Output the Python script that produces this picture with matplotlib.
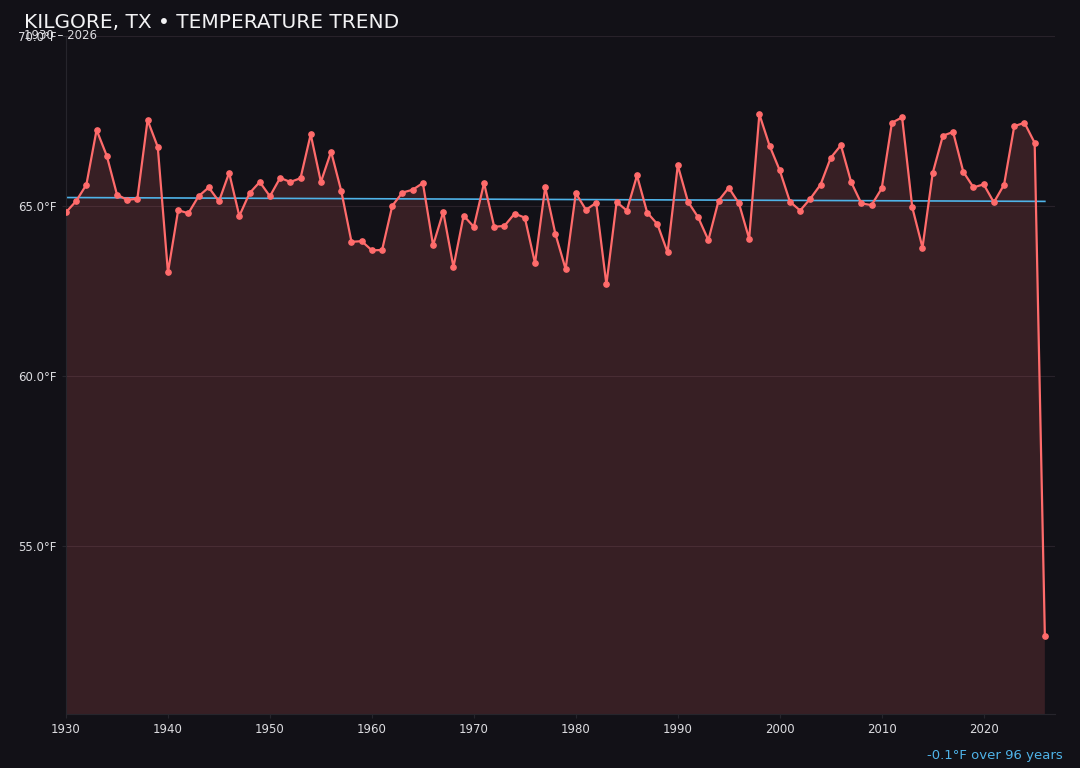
import numpy as np
import matplotlib
matplotlib.use("Agg")
import matplotlib.pyplot as plt

# annual mean temperature, Kilgore TX (°F)
years = list(range(1930, 2027))
temps = [
    64.82, 65.15, 65.63, 67.24, 66.48, 65.34, 65.18, 65.22, 67.53, 66.74,  # 1930s
    63.05, 64.88, 64.79, 65.29, 65.55, 65.14, 65.98, 64.71, 65.38, 65.71,  # 1940s
    65.29, 65.83, 65.71, 65.82, 67.11, 65.71, 66.60, 65.44, 63.95, 63.97,  # 1950s
    63.70, 63.71, 65.01, 65.40, 65.48, 65.68, 63.85, 64.83, 63.21, 64.72,  # 1960s
    64.39, 65.68, 64.39, 64.42, 64.78, 64.66, 63.32, 65.56, 64.18, 63.15,  # 1970s
    65.38, 64.89, 65.10, 62.70, 65.12, 64.87, 65.90, 64.81, 64.47, 63.64,  # 1980s
    66.20, 65.13, 64.67, 64.00, 65.16, 65.54, 65.08, 64.04, 67.70, 66.78,  # 1990s
    66.05, 65.13, 64.87, 65.22, 65.63, 66.42, 66.79, 65.71, 65.08, 65.03,  # 2000s
    65.52, 67.45, 67.61, 64.96, 63.78, 65.97, 67.07, 67.18, 66.01, 65.55,  # 2010s
    65.64, 65.11, 65.63, 67.35, 67.45, 66.86, 52.37,                      # 2020s
]

title = "KILGORE, TX \u2022 TEMPERATURE TREND"
subtitle = "1930 \u2013 2026"

bg = "#121117"
line_c = "#ff6b6b"
trend_c = "#4fb3e8"
text_c = "#dcdce0"

x = np.array(years)
y = np.array(temps)

fig = plt.figure(figsize=(10.8, 7.68), dpi=100, facecolor=bg)
ax = fig.add_axes([0.0611, 0.0703, 0.9158, 0.8828])
ax.set_facecolor(bg)

ax.fill_between(x, y, 0, color=line_c, alpha=0.155, linewidth=0, zorder=1)
ax.plot(x, y, color=line_c, lw=1.6, marker="o", ms=3.8, zorder=3)

# linear trend
k, b = np.polyfit(x, y, 1)
ax.plot(x, k * x + b, color=trend_c, lw=1.2, zorder=2)
change = k * (x[-1] - x[0])

rng = y.max() - y.min()
ax.set_ylim(y.min() - 0.15 * rng, y.max() + 0.15 * rng)
ax.set_xlim(1930, 2027)
ax.set_yticks([55, 60, 65, 70])
ax.set_yticklabels([f"{v:.1f}°F" for v in [55, 60, 65, 70]])
ax.set_xticks(range(1930, 2030, 10))

ax.grid(axis="y", color="#28222a", lw=0.8, zorder=0)
ax.set_axisbelow(True)
for s in ["top", "right"]:
    ax.spines[s].set_visible(False)
for s in ["left", "bottom"]:
    ax.spines[s].set_color("#26252c")
ax.tick_params(colors=text_c, labelsize=8.5, length=3, color="#26252c")

fig.text(0.022, 0.963, title, color="#f2f2f4", fontsize=14.5, va="baseline")
fig.text(0.022, 0.954, subtitle, color=text_c, fontsize=8.5, va="center")
fig.text(0.984, 0.016, f"{change:.1f}°F over {x[-1] - x[0]} years",
         color=trend_c, fontsize=9.5, ha="right", va="center")

fig.savefig("out.png", dpi=100, facecolor=bg)
